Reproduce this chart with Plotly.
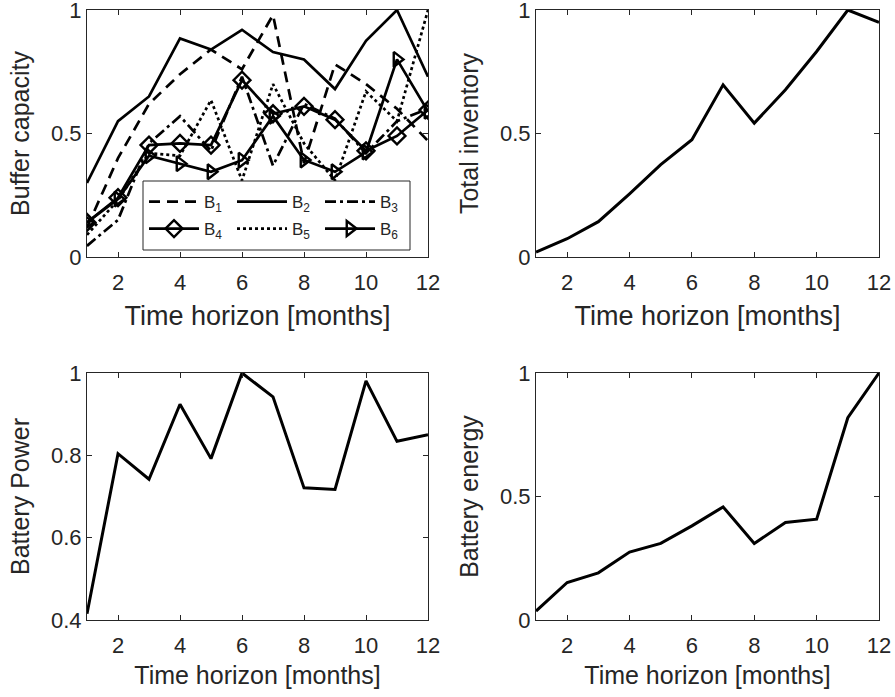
import plotly.graph_objects as go

months = list(range(1, 13))

# Buffer capacity series (top-left)
B1 = [0.12, 0.40, 0.62, 0.74, 0.84, 0.76, 0.98, 0.38, 0.78, 0.70, 0.60, 0.47]
B2 = [0.30, 0.55, 0.65, 0.885, 0.84, 0.92, 0.83, 0.80, 0.68, 0.875, 1.00, 0.73]
B3 = [0.045, 0.15, 0.46, 0.57, 0.43, 0.73, 0.37, 0.62, 0.56, 0.42, 0.55, 0.60]
B4 = [0.14, 0.24, 0.453, 0.46, 0.453, 0.716, 0.58, 0.61, 0.556, 0.43, 0.49, 0.595]
B5 = [0.09, 0.23, 0.42, 0.41, 0.635, 0.31, 0.70, 0.46, 0.31, 0.67, 0.55, 1.00]
B6 = [0.14, 0.235, 0.41, 0.378, 0.345, 0.392, 0.57, 0.393, 0.345, 0.425, 0.80, 0.59]

total_inventory = [0.02, 0.074, 0.143, 0.256, 0.374, 0.475, 0.697, 0.542, 0.677, 0.832, 1.00, 0.95]
battery_power = [0.415, 0.804, 0.742, 0.924, 0.792, 1.00, 0.942, 0.721, 0.717, 0.981, 0.834, 0.850]
battery_energy = [0.036, 0.152, 0.191, 0.275, 0.31, 0.381, 0.458, 0.31, 0.395, 0.408, 0.819, 1.00]

x_ticks = [2, 4, 6, 8, 10, 12]
W, H = 895, 697
AX = '#262626'
FONT = 'Liberation Sans, Arial, Helvetica, sans-serif'


def px_x(p):
    return p / W


def px_y(p):
    return 1 - p / H


fig = go.Figure()

# name, values, dash, marker, legend id, legend column x (px), legend row top (px)
buffer_series = [
    ('B<sub>1</sub>', B1, '11px,7px', None, 'legend', 144, 184),
    ('B<sub>2</sub>', B2, 'solid', None, 'legend2', 232, 184),
    ('B<sub>3</sub>', B3, '11px,4px,3px,4px', None, 'legend3', 320, 184),
    ('B<sub>4</sub>', B4, 'solid', 'diamond-open', 'legend4', 144, 211),
    ('B<sub>5</sub>', B5, '3px,3px', None, 'legend5', 232, 211),
    ('B<sub>6</sub>', B6, 'solid', 'triangle-right-open', 'legend6', 320, 211),
]
legends = {}
for name, vals, dash, sym, leg, lx, ly in buffer_series:
    fig.add_trace(go.Scatter(
        x=months, y=vals, name=name, mode='lines+markers' if sym else 'lines',
        line=dict(color='black', width=2.7, dash=dash),
        marker=dict(symbol=sym, size=13, color='black', line=dict(width=2.4, color='black')) if sym else None,
        xaxis='x', yaxis='y', legend=leg,
    ))
    legends[leg] = dict(orientation='h', x=px_x(lx), y=px_y(ly), xanchor='left', yanchor='top',
                        bgcolor='rgba(0,0,0,0)', borderwidth=0,
                        font=dict(size=17, color=AX, family=FONT), itemwidth=50)

for vals, xa, ya in [(total_inventory, 'x2', 'y2'), (battery_power, 'x3', 'y3'), (battery_energy, 'x4', 'y4')]:
    fig.add_trace(go.Scatter(x=months, y=vals, mode='lines', showlegend=False,
                             line=dict(color='black', width=3), xaxis=xa, yaxis=ya))

left_dom = [px_x(87), px_x(428)]
right_dom = [px_x(536), px_x(879)]
top_dom = [px_y(257), px_y(10)]
bot_dom = [px_y(620), px_y(373)]

common = dict(showgrid=False, zeroline=False, showline=True, linecolor=AX, linewidth=1,
              mirror='allticks', ticks='inside', ticklen=5, tickcolor=AX, tickwidth=1,
              automargin=False, ticklabeloverflow='allow',
              tickfont=dict(size=22, color=AX, family=FONT))


def xax(dom, anchor, tsize, standoff):
    return dict(common, domain=dom, anchor=anchor, range=[1, 12], tickvals=x_ticks,
                ticklabelstandoff=6,
                title=dict(text='Time horizon [months]', font=dict(size=tsize, color=AX, family=FONT),
                           standoff=standoff))


def yax(dom, anchor, rng, tv, tt, title):
    return dict(common, domain=dom, anchor=anchor, range=rng, tickvals=tv, ticktext=tt,
                title=dict(text=title, font=dict(size=25, color=AX, family=FONT), standoff=14))


fig.update_layout(
    width=W, height=H, margin=dict(l=0, r=0, t=0, b=0, autoexpand=False),
    paper_bgcolor='white', plot_bgcolor='white',
    font=dict(family=FONT, color=AX),
    xaxis=xax(left_dom, 'y', 27, 11),
    yaxis=yax(top_dom, 'x', [0, 1], [0, 0.5, 1], ['0', '0.5', '1'], 'Buffer capacity'),
    xaxis2=xax(right_dom, 'y2', 27, 11),
    yaxis2=yax(top_dom, 'x2', [0, 1], [0, 0.5, 1], ['0', '0.5', '1'], 'Total inventory'),
    xaxis3=xax(left_dom, 'y3', 25, 9),
    yaxis3=yax(bot_dom, 'x3', [0.4, 1], [0.4, 0.6, 0.8, 1], ['0.4', '0.6', '0.8', '1'], 'Battery Power'),
    xaxis4=xax(right_dom, 'y4', 25, 9),
    yaxis4=yax(bot_dom, 'x4', [0, 1], [0, 0.5, 1], ['0', '0.5', '1'], 'Battery energy'),
    shapes=[dict(type='rect', xref='paper', yref='paper', x0=px_x(143), x1=px_x(410),
                 y0=px_y(250), y1=px_y(181), fillcolor='white', line=dict(color=AX, width=1),
                 layer='above')],
    **legends,
)

fig.write_html('out.html', config={'displayModeBar': False},
               post_script="document.body.style.margin='0px';")
